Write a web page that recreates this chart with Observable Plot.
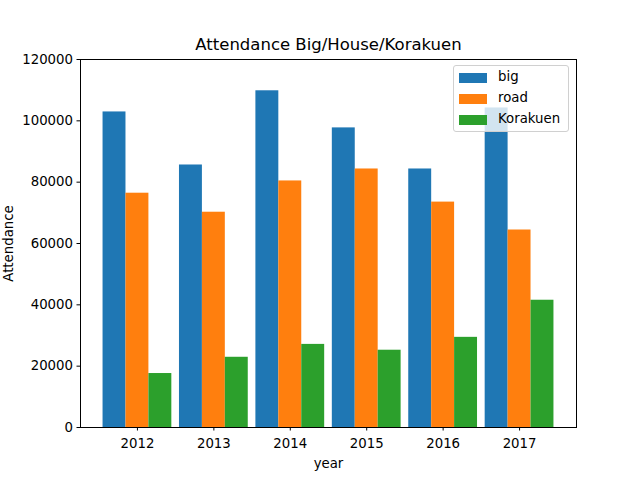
<!DOCTYPE html>
<html>
<head>
<meta charset="utf-8">
<script src="https://cdn.jsdelivr.net/npm/d3@7"></script>
<script src="https://cdn.jsdelivr.net/npm/@observablehq/plot@0.6"></script>
<style>
  body { margin: 0; background: #fff; font-family: "DejaVu Sans", sans-serif; }
  #wrap { position: relative; width: 640px; height: 480px; }
  #legend { position: absolute; left: 453px; top: 65px; width: 114px; height: 65px;
    background: rgba(255,255,255,0.8); border: 1px solid #d0d0d0; border-radius: 3px;
    font-size: 13.3px; color: #000; }
  .item { position: absolute; left: 5px; height: 14px; }
  .sw { position: absolute; left: 0; top: 2px; width: 28px; height: 10px; }
  .lab { position: absolute; left: 39px; top: -2px; white-space: nowrap; }
</style>
</head>
<body>
<div id="wrap"></div>
<script>
const years = [2012, 2013, 2014, 2015, 2016, 2017];
const series = ["big", "road", "Korakuen"];
const big = [102900, 85600, 109800, 97700, 84300, 104200];
const road = [76400, 70200, 80400, 84300, 73500, 64400];
const korakuen = [17600, 22900, 27100, 25200, 29400, 41500];
const yTicks = [0, 20000, 40000, 60000, 80000, 100000, 120000];
const colors = ["#1f77b4", "#ff7f0e", "#2ca02c"];

const values = [big, road, korakuen];
const data = [];
series.forEach((s, si) => years.forEach((y, yi) => data.push({year: y, series: s, si, value: values[si][yi]})));
const barW = 0.3;

const chart = Plot.plot({
  width: 640, height: 480,
  marginLeft: 80, marginRight: 64, marginTop: 59, marginBottom: 53,
  style: {fontFamily: "DejaVu Sans", fontSize: "13.3px", color: "#000", background: "#fff"},
  x: {domain: [2011.255, 2017.745], ticks: years, tickFormat: "d", label: "year",
      labelAnchor: "center", labelArrow: "none", tickSize: 3.5, tickPadding: 8, labelOffset: 40},
  y: {domain: [0, 120000], ticks: yTicks, tickFormat: "d", label: "Attendance",
      labelAnchor: "center", labelArrow: "none", tickSize: 3.5, tickPadding: 4, labelOffset: 77},
  color: {domain: series, range: colors},
  marks: [
    Plot.rectY(data, {
      x1: d => d.year + (d.si - 1) * barW - barW / 2,
      x2: d => d.year + (d.si - 1) * barW + barW / 2,
      y: "value", fill: "series"
    }),
    Plot.frame({stroke: "#000"}),
    Plot.text(["Attendance Big/House/Korakuen"], {frameAnchor: "top", dy: -21, fontSize: 16.5})
  ]
});
document.getElementById("wrap").appendChild(chart);

const leg = document.createElement("div");
leg.id = "legend";
series.forEach((s, i) => {
  const it = document.createElement("div");
  it.className = "item";
  it.style.top = (5 + i * 21) + "px";
  it.innerHTML = `<div class="sw" style="background:${colors[i]}"></div><div class="lab">${s}</div>`;
  leg.appendChild(it);
});
document.getElementById("wrap").appendChild(leg);
</script>
</body>
</html>
